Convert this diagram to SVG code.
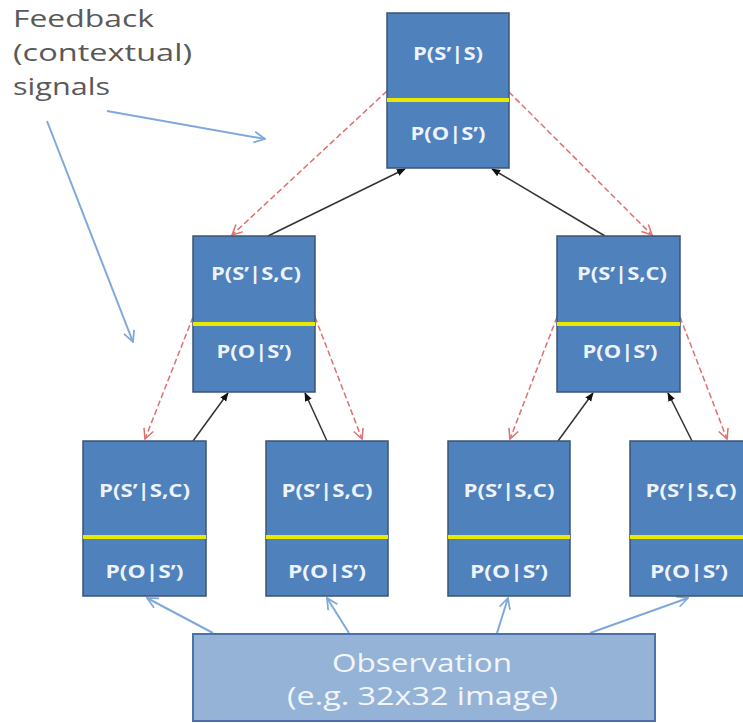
<svg xmlns="http://www.w3.org/2000/svg" width="743" height="723" viewBox="0 0 743 723">
<defs>
<style>
.node{fill:#4f81bd;stroke:#3b5473;stroke-width:1.5}
.sep{stroke:#e8e800;stroke-width:4}
.nt{font-family:"Open Sans","Liberation Sans",Arial,sans-serif;font-weight:bold;font-size:18px;fill:#eef3fa;text-anchor:middle}
.fb{font-family:"Open Sans","Liberation Sans",Arial,sans-serif;font-size:23px;fill:#595959}
.obs{fill:#95b3d7;stroke:#4a72a6;stroke-width:2}
.ot{font-family:"Open Sans","Liberation Sans",Arial,sans-serif;font-size:25px;fill:#f2f5fa;text-anchor:middle}
.red{stroke:#e07070;stroke-width:1.5;stroke-dasharray:6 3;fill:none}
.blk{stroke:#333333;stroke-width:1.5;fill:none}
.blu{stroke:#7ea9da;stroke-width:2;fill:none}
</style>
<marker id="mRed" viewBox="0 0 12 12" refX="11" refY="6" markerWidth="12" markerHeight="12" markerUnits="userSpaceOnUse" orient="auto">
<path d="M1,1 L11,6 L1,11" fill="none" stroke="#e07070" stroke-width="1.5"/>
</marker>
<marker id="mBlu" viewBox="0 0 12 12" refX="11" refY="6" markerWidth="13" markerHeight="13" markerUnits="userSpaceOnUse" orient="auto">
<path d="M1,1 L11,6 L1,11" fill="none" stroke="#7ea9da" stroke-width="1.6"/>
</marker>
<marker id="mBlk" viewBox="0 0 10 10" refX="9" refY="5" markerWidth="9" markerHeight="9" markerUnits="userSpaceOnUse" orient="auto">
<path d="M0,1 L10,5 L0,9 Z" fill="#111111"/>
</marker>
</defs>
<rect width="743" height="723" fill="#ffffff"/>

<g id="feedback-label">
<text class="fb" x="13" y="27" textLength="141" lengthAdjust="spacingAndGlyphs">Feedback</text>
<text class="fb" x="13" y="61" textLength="179" lengthAdjust="spacingAndGlyphs">(contextual)</text>
<text class="fb" x="13" y="95" textLength="97" lengthAdjust="spacingAndGlyphs">signals</text>
</g>

<g id="connectors">
<line class="blu" x1="107" y1="111" x2="265" y2="139" marker-end="url(#mBlu)"/>
<line class="blu" x1="47" y1="121" x2="133" y2="342" marker-end="url(#mBlu)"/>

<line class="red" x1="387" y1="91" x2="232" y2="235" marker-end="url(#mRed)"/>
<line class="red" x1="509" y1="92" x2="652" y2="235" marker-end="url(#mRed)"/>
<line class="red" x1="193" y1="317" x2="145" y2="439" marker-end="url(#mRed)"/>
<line class="red" x1="315" y1="317" x2="362" y2="439" marker-end="url(#mRed)"/>
<line class="red" x1="557" y1="317" x2="510" y2="439" marker-end="url(#mRed)"/>
<line class="red" x1="680" y1="317" x2="727" y2="439" marker-end="url(#mRed)"/>

<line class="blk" x1="268" y1="236" x2="405" y2="169" marker-end="url(#mBlk)"/>
<line class="blk" x1="605" y1="236" x2="492" y2="169" marker-end="url(#mBlk)"/>
<line class="blk" x1="193" y1="441" x2="228" y2="393" marker-end="url(#mBlk)"/>
<line class="blk" x1="327" y1="441" x2="305" y2="393" marker-end="url(#mBlk)"/>
<line class="blk" x1="558" y1="441" x2="593" y2="393" marker-end="url(#mBlk)"/>
<line class="blk" x1="692" y1="441" x2="668" y2="393" marker-end="url(#mBlk)"/>

<line class="blu" x1="213" y1="633" x2="147" y2="598" marker-end="url(#mBlu)"/>
<line class="blu" x1="349" y1="633" x2="327" y2="598" marker-end="url(#mBlu)"/>
<line class="blu" x1="497" y1="633" x2="508" y2="598" marker-end="url(#mBlu)"/>
<line class="blu" x1="590" y1="633" x2="688" y2="598" marker-end="url(#mBlu)"/>
</g>

<g id="node-top">
<rect class="node" x="387" y="13" width="122" height="155"/>
<line class="sep" x1="387" y1="100" x2="509" y2="100"/>
<text class="nt" x="448" y="60" textLength="70" lengthAdjust="spacingAndGlyphs">P(S’|S)</text>
<text class="nt" x="448" y="140" textLength="75" lengthAdjust="spacingAndGlyphs">P(O|S’)</text>
</g>

<g id="node-mid-left">
<rect class="node" x="193" y="236" width="122" height="156"/>
<line class="sep" x1="193" y1="324" x2="315" y2="324"/>
<text class="nt" x="256" y="280" textLength="90" lengthAdjust="spacingAndGlyphs">P(S’|S,C)</text>
<text class="nt" x="254" y="358" textLength="75" lengthAdjust="spacingAndGlyphs">P(O|S’)</text>
</g>

<g id="node-mid-right">
<rect class="node" x="557" y="236" width="123" height="156"/>
<line class="sep" x1="557" y1="324" x2="680" y2="324"/>
<text class="nt" x="622" y="280" textLength="90" lengthAdjust="spacingAndGlyphs">P(S’|S,C)</text>
<text class="nt" x="620" y="358" textLength="75" lengthAdjust="spacingAndGlyphs">P(O|S’)</text>
</g>

<g id="node-bottom-1">
<rect class="node" x="83" y="441" width="123" height="155"/>
<line class="sep" x1="83" y1="537" x2="206" y2="537"/>
<text class="nt" x="144.5" y="497" textLength="91" lengthAdjust="spacingAndGlyphs">P(S’|S,C)</text>
<text class="nt" x="144.5" y="578" textLength="78" lengthAdjust="spacingAndGlyphs">P(O|S’)</text>
</g>

<g id="node-bottom-2">
<rect class="node" x="266" y="441" width="122" height="155"/>
<line class="sep" x1="266" y1="537" x2="388" y2="537"/>
<text class="nt" x="327" y="497" textLength="91" lengthAdjust="spacingAndGlyphs">P(S’|S,C)</text>
<text class="nt" x="327" y="578" textLength="78" lengthAdjust="spacingAndGlyphs">P(O|S’)</text>
</g>

<g id="node-bottom-3">
<rect class="node" x="448" y="441" width="122" height="155"/>
<line class="sep" x1="448" y1="537" x2="570" y2="537"/>
<text class="nt" x="509" y="497" textLength="91" lengthAdjust="spacingAndGlyphs">P(S’|S,C)</text>
<text class="nt" x="509" y="578" textLength="78" lengthAdjust="spacingAndGlyphs">P(O|S’)</text>
</g>

<g id="node-bottom-4">
<rect class="node" x="630" y="441" width="122" height="155"/>
<line class="sep" x1="630" y1="537" x2="752" y2="537"/>
<text class="nt" x="691" y="497" textLength="91" lengthAdjust="spacingAndGlyphs">P(S’|S,C)</text>
<text class="nt" x="689" y="578" textLength="78" lengthAdjust="spacingAndGlyphs">P(O|S’)</text>
</g>

<g id="node-observation">
<rect class="obs" x="193" y="634" width="462" height="87"/>
<text class="ot" x="422" y="672" textLength="180" lengthAdjust="spacingAndGlyphs">Observation</text>
<text class="ot" x="422.5" y="705" textLength="271" lengthAdjust="spacingAndGlyphs">(e.g. 32x32 image)</text>
</g>
</svg>
